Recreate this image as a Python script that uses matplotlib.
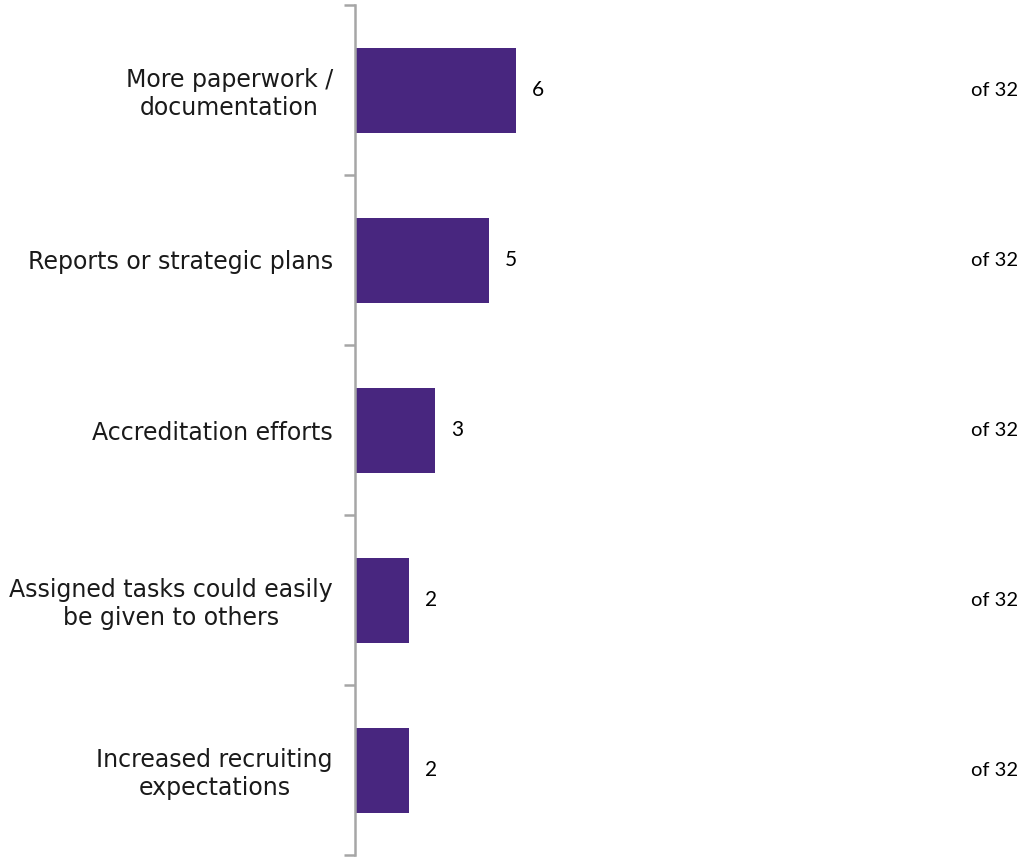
import matplotlib
matplotlib.use("Agg")
import matplotlib.pyplot as plt
import numpy as np

categories = [
    "More paperwork /\ndocumentation",
    "Reports or strategic plans",
    "Accreditation efforts",
    "Assigned tasks could easily\nbe given to others",
    "Increased recruiting\nexpectations",
]
counts = [6, 5, 3, 2, 2]
total = 32

bar_color = "#48267f"
spine_color = "#a6a6a6"

fig = plt.figure(figsize=(10.25, 8.57), dpi=100)
ax = fig.add_axes([355 / 1025, 2 / 857, (1025 - 355) / 1025, 850 / 857])

n = len(categories)
y = np.arange(n)
ax.barh(y, counts, height=0.5, color=bar_color, zorder=2)
ax.set_ylim(n - 0.5, -0.5)
ax.set_xlim(0, 670 / 26.8)

for spine in ["top", "right", "bottom"]:
    ax.spines[spine].set_visible(False)
ax.spines["left"].set_color(spine_color)
ax.spines["left"].set_linewidth(1.8)

# ticks at the category boundaries, labels centred on the bars
ax.set_yticks(np.arange(n + 1) - 0.5)
ax.set_yticklabels([])
ax.tick_params(axis="y", which="major", length=8, width=1.8, color=spine_color, direction="out")
ax.set_yticks(y, minor=True)
ax.set_yticklabels(categories, minor=True, fontsize=17, family="DejaVu Sans",
                   ha="right", multialignment="center", color="#1a1a1a",
                   linespacing=1.2)
ax.tick_params(axis="y", which="minor", length=0, pad=16)
ax.set_xticks([])

for yi, v in zip(y, counts):
    ax.text(v + 16 / 26.8, yi, str(v), va="center", ha="left", fontsize=15,
            family="Lato", color="#000000")
    ax.text(1.0 - 7 / 670, yi, f"of {total}", transform=ax.get_yaxis_transform(),
            va="center", ha="right", fontsize=14.5, family="Lato", color="#000000")

fig.savefig("out.png", dpi=100)
